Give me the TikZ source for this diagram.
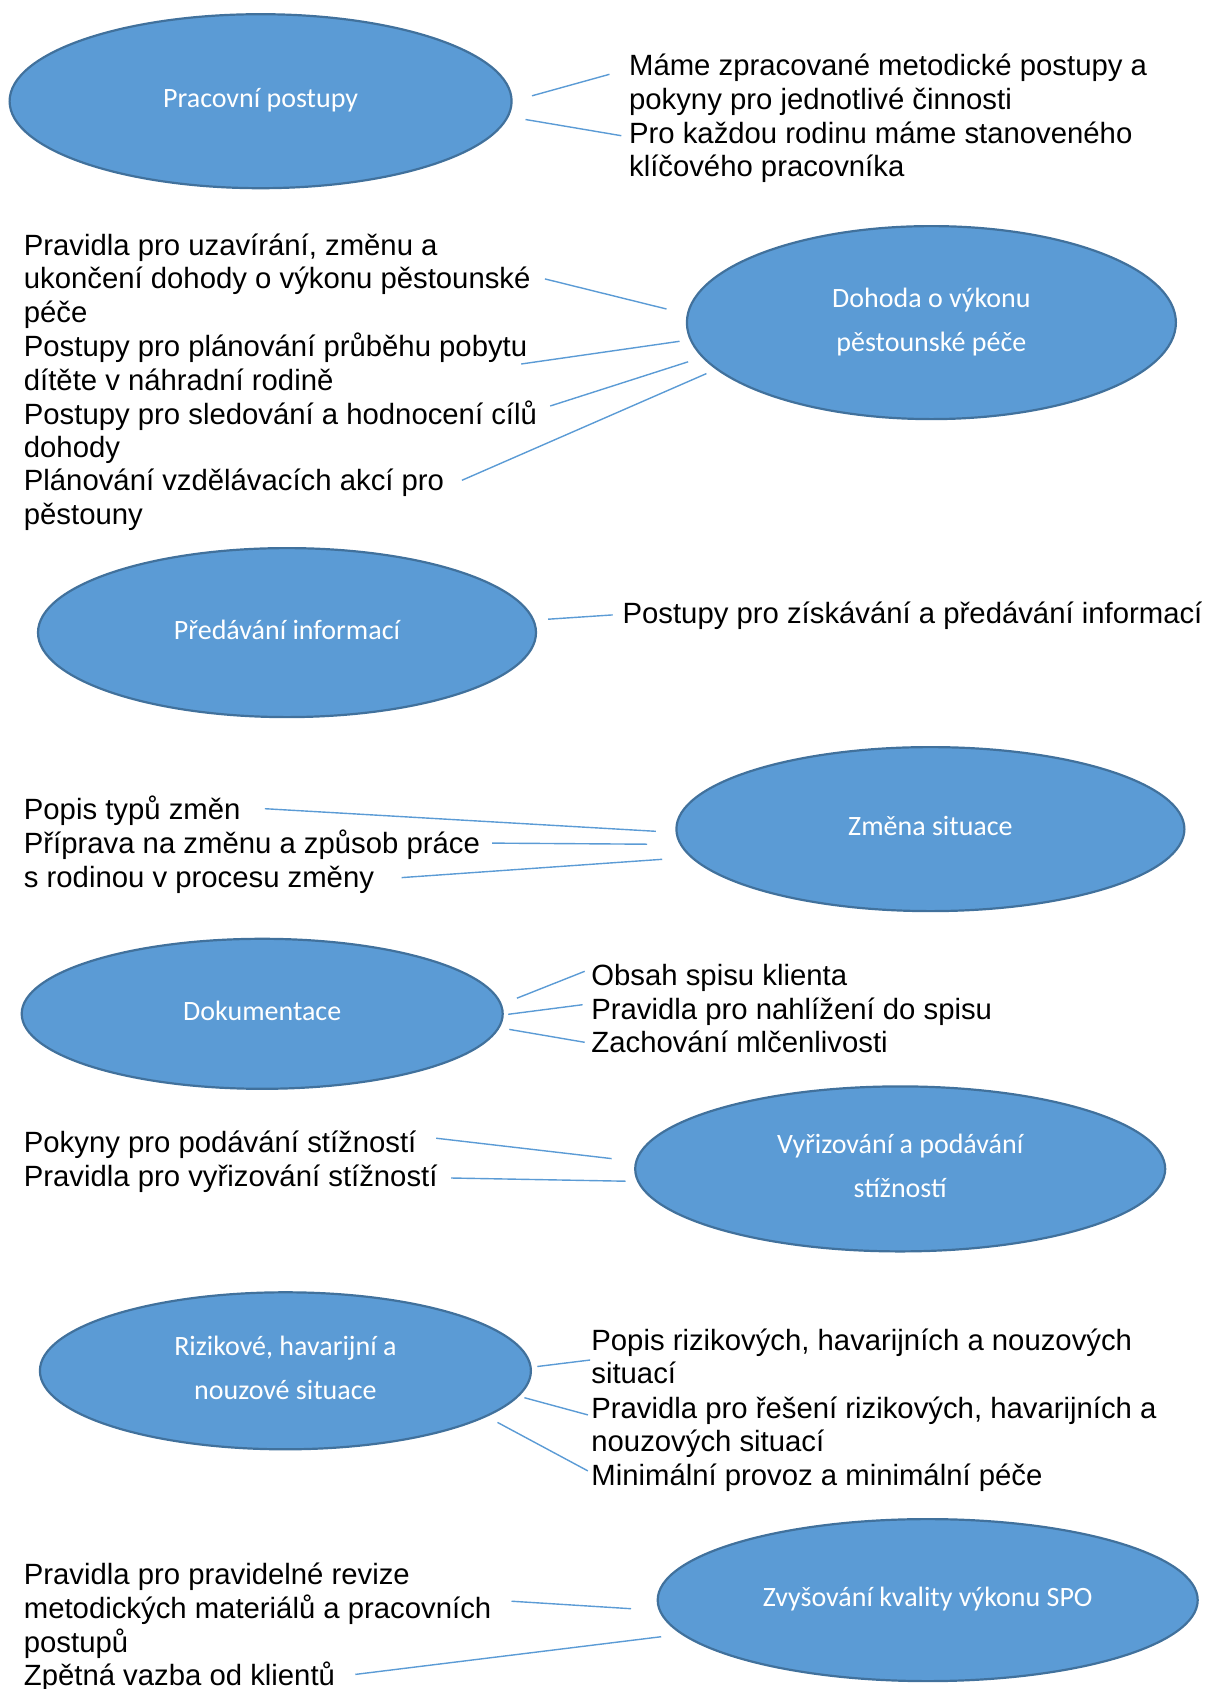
\documentclass[tikz,border=0pt]{standalone}
\usepackage{fontspec}
\setmainfont{Liberation Sans}
\newfontfamily\bubblefont{Carlito}
\usetikzlibrary{shapes.geometric}
\definecolor{bubblefill}{HTML}{5B9BD5}
\definecolor{bubbleline}{HTML}{41719C}
\definecolor{linkblue}{HTML}{5B9BD5}

\begin{document}
\begin{tikzpicture}[x=1pt,y=-1pt,
 bubble/.style = {shape=ellipse, draw=bubbleline, line width=2.2pt, fill=bubblefill,
   text=white, inner sep=0pt, align=center, font=\bubblefont\fontsize{28}{44}\selectfont,
   text height=21pt, text depth=7.8pt},
 bubble2/.style = {bubble, text height=65pt},
 item/.style = {anchor=north west, inner sep=0pt, align=left,
   font=\fontsize{29.3}{33.8}\selectfont},
 link/.style = {draw=linkblue, line width=1.4pt}]
 \useasboundingbox (0,0) rectangle (1206,1689);

 % ellipses
 \node [bubble, minimum width=502pt, minimum height=174pt] (postupy) at (260.6,101.2) {Pracovní postupy};
 \node [bubble2, minimum width=489pt, minimum height=193pt] (dohoda) at (931.4,322.6) {Dohoda o výkonu\\pěstounské péče};
 \node [bubble, minimum width=498pt, minimum height=169pt] (informace) at (287,632.6) {Předávání informací};
 \node [bubble, minimum width=508pt, minimum height=164pt] (zmena) at (930.4,829.1) {Změna situace};
 \node [bubble, minimum width=481pt, minimum height=150pt] (dokumentace) at (262.2,1013.8) {Dokumentace};
 \node [bubble2, minimum width=530pt, minimum height=165pt] (stiznosti) at (900.2,1168.9) {Vyřizování a podávání\\stížností};
 \node [bubble2, minimum width=491pt, minimum height=157pt] (rizika) at (285.4,1370.8) {Rizikové, havarijní a\\nouzové situace};
 \node [bubble, minimum width=540pt, minimum height=162pt] (kvalita) at (927.7,1600.1) {Zvyšování kvality výkonu SPO};

 % texts
 \node [item] (postupy-a) at (628.9,51.4) {\strut Máme zpracované metodické postupy a\\pokyny pro jednotlivé činnosti};
 \node [item] (postupy-b) at (628.9,119.2) {\strut Pro každou rodinu máme stanoveného\\klíčového pracovníka};

 \node [item] (dohoda-a) at (23.7,231.2) {\strut Pravidla pro uzavírání, změnu a\\ukončení dohody o výkonu pěstounské\\péče};
 \node [item] (dohoda-b) at (23.7,332.5) {\strut Postupy pro plánování průběhu pobytu\\dítěte v náhradní rodině};
 \node [item] (dohoda-c) at (23.7,400.3) {\strut Postupy pro sledování a hodnocení cílů\\dohody};
 \node [item] (dohoda-d) at (23.7,467.1) {\strut Plánování vzdělávacích akcí pro\\pěstouny};

 \node [item] (informace-a) at (622.4,599.5) {\strut Postupy pro získávání a předávání informací};

 \node [item] (zmena-a) at (23.7,795.5) {\strut Popis typů změn};
 \node [item] (zmena-b) at (23.7,829.9) {\strut Příprava na změnu a způsob práce\\s rodinou v procesu změny};

 \node [item] (dokumentace-a) at (591.2,961.3) {\strut Obsah spisu klienta};
 \node [item] (dokumentace-b) at (591.2,995.8) {\strut Pravidla pro nahlížení do spisu};
 \node [item] (dokumentace-c) at (591.2,1029.1) {\strut Zachování mlčenlivosti};

 \node [item] (stiznosti-a) at (23.7,1128.2) {\strut Pokyny pro podávání stížností};
 \node [item] (stiznosti-b) at (23.7,1162.7) {\strut Pravidla pro vyřizování stížností};

 \node [item] (rizika-a) at (591.2,1326.3) {\strut Popis rizikových, havarijních a nouzových\\situací};
 \node [item] (rizika-b) at (591.2,1394.2) {\strut Pravidla pro řešení rizikových, havarijních a\\nouzových situací};
 \node [item] (rizika-c) at (591.2,1462) {\strut Minimální provoz a minimální péče};

 \node [item] (kvalita-a) at (23.7,1561.1) {\strut Pravidla pro pravidelné revize\\metodických materiálů a pracovních\\postupů};
 \node [item] (kvalita-b) at (23.7,1661.2) {\strut Zpětná vazba od klientů};

 % connector ends
 \coordinate (p1) at (532,95.8);     \coordinate (q1) at (609.5,74.3);
 \coordinate (p2) at (525.5,119.5);  \coordinate (q2) at (621.3,135.7);
 \coordinate (p3) at (666.5,309);    \coordinate (q3) at (544.9,278.9);
 \coordinate (p4) at (679.5,341.3);  \coordinate (q4) at (521.2,364);
 \coordinate (p5) at (688.1,361.8);  \coordinate (q5) at (550.2,406);
 \coordinate (p6) at (706.4,373.6);  \coordinate (q6) at (461.9,480.3);
 \coordinate (p7) at (548.1,619.2);  \coordinate (q7) at (612.7,614.9);
 \coordinate (p8) at (655.8,831.3);  \coordinate (q8) at (264.9,808.7);
 \coordinate (p9) at (647.2,844.2);  \coordinate (q9) at (492.1,843.1);
 \coordinate (p10) at (662.2,859.3); \coordinate (q10) at (401.6,877.6);
 \coordinate (p11) at (516.9,998.2); \coordinate (q11) at (584.7,971.3);
 \coordinate (p12) at (508.2,1014.3);\coordinate (q12) at (582.6,1004.7);
 \coordinate (p13) at (509.3,1029.4);\coordinate (q13) at (584.7,1042.3);
 \coordinate (p14) at (611.6,1158.6);\coordinate (q14) at (436.1,1138.2);
 \coordinate (p15) at (625.6,1181.2);\coordinate (q15) at (451.2,1178);
 \coordinate (p16) at (537.3,1366.5);\coordinate (q16) at (590.1,1360);
 \coordinate (p17) at (524.4,1397.7);\coordinate (q17) at (587.9,1414.9);
 \coordinate (p18) at (497.5,1422.4);\coordinate (q18) at (587.9,1470.9);
 \coordinate (p19) at (631,1608.7);  \coordinate (q19) at (511.5,1601.2);
 \coordinate (p20) at (661.2,1636.7);\coordinate (q20) at (355.3,1674.4);

 \draw [link] (p1) -- (q1);  \draw [link] (p2) -- (q2);
 \draw [link] (p3) -- (q3);  \draw [link] (p4) -- (q4);
 \draw [link] (p5) -- (q5);  \draw [link] (p6) -- (q6);
 \draw [link] (p7) -- (q7);
 \draw [link] (p8) -- (q8);  \draw [link] (p9) -- (q9);
 \draw [link] (p10) -- (q10);
 \draw [link] (p11) -- (q11); \draw [link] (p12) -- (q12);
 \draw [link] (p13) -- (q13);
 \draw [link] (p14) -- (q14); \draw [link] (p15) -- (q15);
 \draw [link] (p16) -- (q16); \draw [link] (p17) -- (q17);
 \draw [link] (p18) -- (q18);
 \draw [link] (p19) -- (q19); \draw [link] (p20) -- (q20);
\end{tikzpicture}
\end{document}
